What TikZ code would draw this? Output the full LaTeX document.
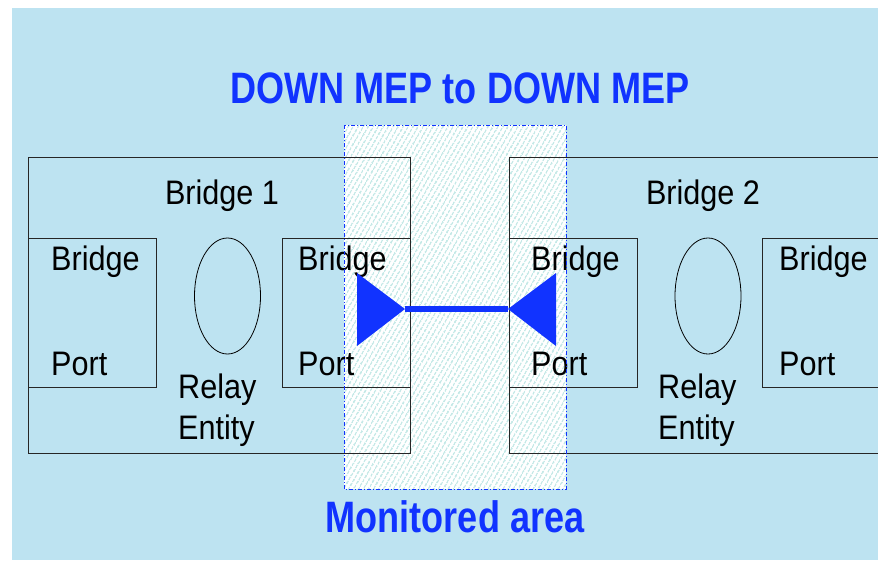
\documentclass[tikz,border=0pt]{standalone}
\usepackage{fontspec}
\setmainfont{Liberation Sans}
\usepackage{tikz}
\usetikzlibrary{shapes.geometric,patterns.meta}

\begin{document}
\begin{tikzpicture}[x=1pt, y=-1pt]
  % Colour definitions
  \definecolor{bgfill}{HTML}{BDE3F1}   % pale sky blue
  \definecolor{mepblue}{HTML}{1133FF}
  \definecolor{hatch}{HTML}{A6DEDB}

  \tikzstyle{bridgebox} = [draw=black!85, line width=1pt, rectangle,
    anchor=north west, inner sep=0pt]
  \tikzstyle{portbox} = [draw=black!85, line width=1pt, rectangle,
    anchor=north west, inner sep=0pt, minimum width=128, minimum height=149]
  \tikzstyle{relay} = [draw=black, line width=0.8pt, ellipse, inner sep=0pt,
    minimum width=66, minimum height=116]
  \tikzstyle{lbl} = [inner sep=0pt, xscale=0.9,
    font=\fontsize{34}{36}\selectfont]
  \tikzstyle{heading} = [inner sep=0pt, xscale=0.82, text=mepblue,
    font=\fontsize{44}{46}\selectfont\bfseries]

  \clip (0,0) rectangle (878,560);
  \useasboundingbox (0,0) rectangle (878,560);

  % Background
  \fill[bgfill] (12,8) rectangle (878,560);

  % Monitored area (hatched, drawn behind the bridges)
  \fill[white] (344,125) rectangle (566,489);
  \fill[pattern={Lines[angle=60, distance=4pt, line width=1.4pt]},
    pattern color=hatch] (344,125) rectangle (566,489);

  % Bridges
  \node[bridgebox, minimum width=382, minimum height=296] (br1) at (28,157) {};
  \node[bridgebox, minimum width=400, minimum height=296] (br2) at (509,157) {};

  % Bridge ports
  \node[portbox] (p1a) at (28,238) {};
  \node[portbox] (p1b) at (282,238) {};
  \node[portbox] (p2a) at (509,238) {};
  \node[portbox] (p2b) at (762,238) {};

  % Relay entities
  \node[relay] (r1) at (227.5,296) {};
  \node[relay] (r2) at (708,296) {};

  % Labels
  \node[lbl, anchor=base] (br1lbl) at (222,204) {Bridge 1};
  \node[lbl, anchor=base] (br2lbl) at (703,204) {Bridge 2};

  \node[lbl, anchor=base west] (p1abr) at (51,270) {Bridge};
  \node[lbl, anchor=base west] (p1apt) at (51,375) {Port};
  \node[lbl, anchor=base west] (p1bbr) at (298,270) {Bridge};
  \node[lbl, anchor=base west] (p1bpt) at (298,375) {Port};
  \node[lbl, anchor=base west] (p2abr) at (531,270) {Bridge};
  \node[lbl, anchor=base west] (p2apt) at (531,375) {Port};
  \node[lbl, anchor=base west] (p2bbr) at (779,270) {Bridge};
  \node[lbl, anchor=base west] (p2bpt) at (779,375) {Port};

  \node[lbl, anchor=base west] (r1a) at (178,398) {Relay};
  \node[lbl, anchor=base west] (r1b) at (178,439) {Entity};
  \node[lbl, anchor=base west] (r2a) at (658,398) {Relay};
  \node[lbl, anchor=base west] (r2b) at (658,439) {Entity};

  % MEPs facing each other
  \coordinate (mepL) at (405,309);
  \coordinate (mepR) at (508,309);
  \fill[mepblue] (357,273) -- (357,346) -- (mepL) -- cycle;
  \fill[mepblue] (556,273) -- (556,346) -- (mepR) -- cycle;
  \draw[mepblue, line width=6pt] (mepL) -- (mepR);

  % Monitored area outline
  \draw[mepblue, line width=0.7pt, dash pattern=on 4pt off 2pt on 1pt off 2pt]
    (344,125) rectangle (566,489);

  % Headings
  \node[heading, anchor=base] (title) at (460,103) {DOWN MEP to DOWN MEP};
  \node[heading, anchor=base] (mon) at (455,532) {Monitored area};
\end{tikzpicture}
\end{document}
